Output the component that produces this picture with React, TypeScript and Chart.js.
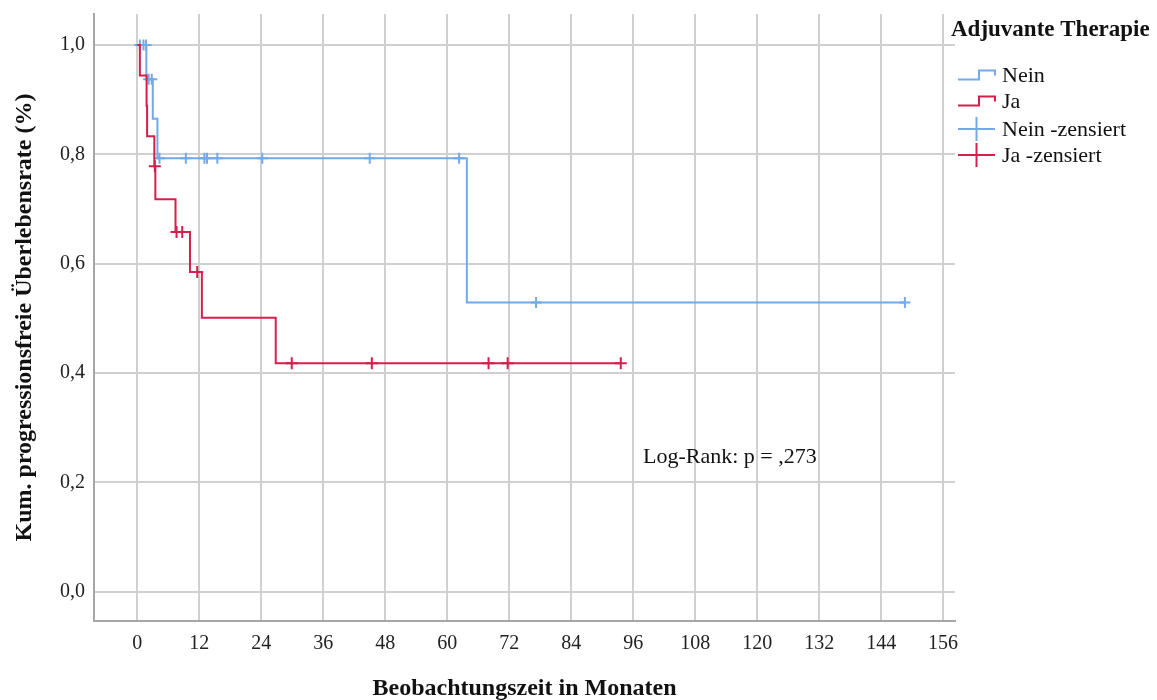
import React, { useEffect, useRef } from 'react';
import { Chart, registerables } from 'chart.js';

Chart.register(...registerables);

// ---- data ----
const xTickValues = [0, 12, 24, 36, 48, 60, 72, 84, 96, 108, 120, 132, 144, 156];
const yTickValues = [0, 0.2, 0.4, 0.6, 0.8, 1.0];
const yTickLabels = ['0,0', '0,2', '0,4', '0,6', '0,8', '1,0'];

const neinStepTimes = [0, 1.75, 3.0, 3.9, 63.8, 148.6];
const neinStepSurv = [1.0, 0.9375, 0.865, 0.793, 0.529, 0.529];
const neinCensorTimes = [0.5, 1.2, 1.7, 2.2, 2.8, 4.3, 9.4, 13.0, 13.5, 15.5, 24.2, 45.0, 62.3, 77.2, 148.6];
const neinCensorSurv = [1, 1, 1, 0.9375, 0.9375, 0.793, 0.793, 0.793, 0.793, 0.793, 0.793, 0.793, 0.793, 0.529, 0.529];

const jaStepTimes = [0, 0.5, 1.8, 1.9, 3.3, 3.5, 7.4, 10.2, 12.5, 26.8, 93.6];
const jaStepSurv = [1, 0.944, 0.889, 0.833, 0.778, 0.718, 0.658, 0.585, 0.501, 0.418, 0.418];
const jaCensorTimes = [3.4, 7.6, 8.7, 11.6, 29.9, 45.4, 68.0, 71.7, 93.6];
const jaCensorSurv = [0.778, 0.658, 0.658, 0.585, 0.418, 0.418, 0.418, 0.418, 0.418];

const legendTitle = 'Adjuvante Therapie';
const legendLabels = ['Nein', 'Ja', 'Nein -zensiert', 'Ja -zensiert'];
const annotationText = 'Log-Rank: p = ,273';
const xTitle = 'Beobachtungszeit in Monaten';
const yTitle = 'Kum. progressionsfreie Überlebensrate (%)';

const BLUE = '#74A9E8';
const RED = '#D41F4C';
const FONT = '"Liberation Serif", "Times New Roman", serif';

const toPoints = (xs: number[], ys: number[]) => xs.map((x, i) => ({ x, y: ys[i] }));

const overlayPlugin = {
  id: 'overlay',
  afterDraw(chart: any) {
    const ctx = chart.ctx as CanvasRenderingContext2D;
    ctx.save();
    // annotation
    ctx.fillStyle = '#111';
    ctx.textAlign = 'left';
    ctx.textBaseline = 'alphabetic';
    ctx.font = `22px ${FONT}`;
    ctx.fillText(annotationText, 643, 463);

    // legend title
    ctx.font = `bold 23px ${FONT}`;
    ctx.fillText(legendTitle, 951, 36);

    // legend items
    const colors = [BLUE, RED, BLUE, RED];
    const rowY = [75, 101, 129, 155];
    ctx.font = `22px ${FONT}`;
    for (let i = 0; i < 4; i++) {
      const y = rowY[i];
      ctx.strokeStyle = colors[i];
      ctx.lineWidth = 2;
      ctx.beginPath();
      if (i < 2) {
        ctx.moveTo(958, y + 4.5);
        ctx.lineTo(979, y + 4.5);
        ctx.lineTo(979, y - 4.5);
        ctx.lineTo(995, y - 4.5);
        ctx.lineTo(995, y + 0.5);
      } else {
        ctx.moveTo(958, y);
        ctx.lineTo(995, y);
        ctx.moveTo(976.5, y - 12);
        ctx.lineTo(976.5, y + 12);
      }
      ctx.stroke();
      ctx.fillStyle = '#111';
      ctx.textBaseline = 'middle';
      ctx.fillText(legendLabels[i], 1002, y + 1);
    }
    ctx.restore();
  },
};

export default function App() {
  const ref = useRef<HTMLCanvasElement | null>(null);

  useEffect(() => {
    if (!ref.current) return;
    const chart = new Chart(ref.current, {
      type: 'line',
      data: {
        datasets: [
          {
            label: 'Ja',
            data: toPoints(jaStepTimes, jaStepSurv),
            borderColor: RED,
            borderWidth: 2,
            stepped: 'before',
            pointRadius: 0,
            fill: false,
            order: 1,
          },
          {
            label: 'Ja -zensiert',
            data: toPoints(jaCensorTimes, jaCensorSurv),
            borderColor: RED,
            showLine: false,
            pointStyle: 'cross',
            pointRadius: 6,
            pointBorderWidth: 2,
            pointBorderColor: RED,
            order: 0,
          },
          {
            label: 'Nein',
            data: toPoints(neinStepTimes, neinStepSurv),
            borderColor: BLUE,
            borderWidth: 2,
            stepped: 'before',
            pointRadius: 0,
            fill: false,
            order: 3,
          },
          {
            label: 'Nein -zensiert',
            data: toPoints(neinCensorTimes, neinCensorSurv),
            borderColor: BLUE,
            showLine: false,
            pointStyle: 'cross',
            pointRadius: 5.5,
            pointBorderWidth: 2,
            pointBorderColor: BLUE,
            order: 2,
          },
        ],
      },
      options: {
        animation: false,
        responsive: false,
        events: [],
        layout: { padding: { left: 0, right: 202, top: 14, bottom: 0 } },
        plugins: {
          legend: { display: false },
          tooltip: { enabled: false },
          title: { display: false },
        },
        scales: {
          x: {
            type: 'linear',
            min: -8.38,
            max: 158.3,
            afterBuildTicks: (scale: any) => {
              scale.ticks = xTickValues.map((v) => ({ value: v }));
            },
            afterFit: (scale: any) => {
              scale.height = 79;
              scale.paddingLeft = 0;
              scale.paddingRight = 0;
              scale.paddingTop = 0;
              scale.paddingBottom = 0;
            },
            ticks: {
              color: '#222',
              font: { family: FONT, size: 20 },
              padding: 11,
              maxRotation: 0,
              autoSkip: false,
              callback: (v: any) => String(v),
            },
            grid: { color: '#d0d0d0', lineWidth: 2, drawTicks: false },
            border: { color: '#a6a6a6', width: 2 },
            title: {
              display: true,
              text: xTitle,
              color: '#111',
              font: { family: FONT, size: 24, weight: 'bold' },
              padding: { top: 0, bottom: -3 },
            },
          },
          y: {
            type: 'linear',
            min: -0.0536,
            max: 1.0567,
            afterBuildTicks: (scale: any) => {
              scale.ticks = yTickValues.map((v) => ({ value: v }));
            },
            afterFit: (scale: any) => {
              scale.width = 94;
              scale.paddingLeft = 0;
              scale.paddingRight = 0;
              scale.paddingTop = 0;
              scale.paddingBottom = 0;
            },
            ticks: {
              color: '#222',
              font: { family: FONT, size: 20 },
              padding: 9,
              autoSkip: false,
              callback: (v: any) => {
                const i = yTickValues.findIndex((t) => Math.abs(t - v) < 1e-6);
                return i >= 0 ? yTickLabels[i] : '';
              },
            },
            grid: { color: '#d0d0d0', lineWidth: 2, drawTicks: false },
            border: { color: '#a6a6a6', width: 2 },
            title: {
              display: true,
              text: yTitle,
              color: '#111',
              font: { family: FONT, size: 24, weight: 'bold' },
              padding: { top: 10, bottom: 0 },
            },
          },
        },
      } as any,
      plugins: [overlayPlugin],
    });
    return () => chart.destroy();
  }, []);

  return (
    <div style={{ position: 'fixed', left: 0, top: 0, width: 1157, height: 700, background: '#fff' }}>
      <canvas ref={ref} width={1157} height={700} style={{ display: 'block' }} />
    </div>
  );
}
